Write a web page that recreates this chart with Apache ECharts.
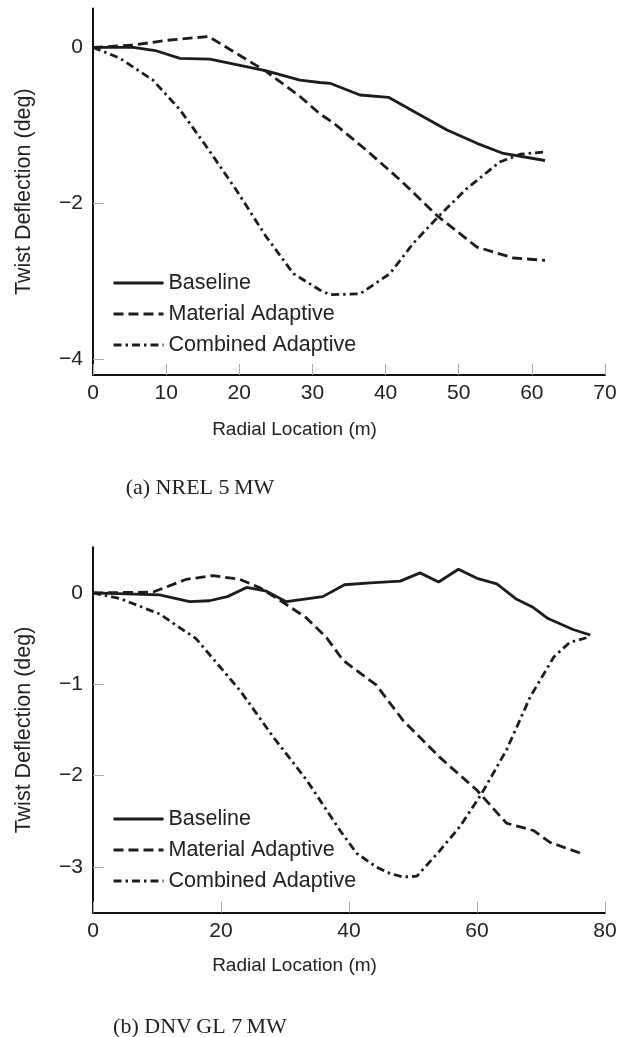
<!DOCTYPE html>
<html>
<head>
<meta charset="utf-8">
<script src="https://cdn.jsdelivr.net/npm/echarts@6/dist/echarts.min.js"></script>
<style>
  html, body { margin: 0; padding: 0; background: #fff; }
  #chart { width: 619px; height: 1037px; }
</style>
</head>
<body>
<div id="chart"></div>
<script>
// ---------- Data ----------
const seriesNames = ['Baseline', 'Material Adaptive', 'Combined Adaptive'];

// (a) NREL 5 MW
const nrelBaseX = [0, 5.5, 8.5, 11.9, 16, 20.1, 23.7, 28.3, 31, 32.4, 36.5, 40.4, 44.3, 48.4, 52.5, 56.1, 61.8];
const nrelBaseY = [0, 0, -0.04, -0.14, -0.15, -0.23, -0.3, -0.42, -0.45, -0.46, -0.61, -0.64, -0.845, -1.06, -1.23, -1.36, -1.45];
const nrelMatX = [0, 5.5, 10, 15.8, 23.7, 28.3, 31, 32.9, 37.4, 42, 47.2, 52.5, 57.5, 61.8];
const nrelMatY = [0, 0.03, 0.09, 0.14, -0.31, -0.63, -0.85, -0.97, -1.32, -1.70, -2.17, -2.56, -2.70, -2.73];
const nrelCombX = [0, 3.7, 8.2, 11.9, 15.5, 19.6, 23.7, 27.4, 31, 32.4, 36.5, 40.6, 43.8, 47.2, 51.1, 55.6, 58.4, 61.8];
const nrelCombY = [0, -0.14, -0.42, -0.80, -1.27, -1.83, -2.43, -2.90, -3.11, -3.17, -3.16, -2.90, -2.51, -2.17, -1.81, -1.47, -1.37, -1.34];

// (b) DNV GL 7 MW
const dnvBaseX = [0, 10.4, 15.1, 18.2, 21, 24, 27.1, 30.2, 35.9, 39.3, 43.3, 48, 51.1, 54, 57.1, 60, 63.1, 66.2, 68.8, 71.1, 75, 77.7];
const dnvBaseY = [0, -0.02, -0.095, -0.085, -0.04, 0.06, 0.02, -0.095, -0.04, 0.09, 0.11, 0.13, 0.22, 0.12, 0.26, 0.16, 0.10, -0.07, -0.16, -0.28, -0.40, -0.46];
const dnvMatX = [0, 9.4, 14.6, 18.75, 22.9, 26, 29.2, 33.3, 36.5, 39.1, 44.3, 48.5, 54.2, 60, 64.6, 68.8, 71.4, 76.6];
const dnvMatY = [0, 0.01, 0.15, 0.19, 0.15, 0.06, -0.08, -0.27, -0.49, -0.74, -1.01, -1.40, -1.80, -2.16, -2.52, -2.60, -2.73, -2.86];
const dnvCombX = [0, 4.2, 10.4, 16.1, 23, 28.2, 33.4, 38.6, 41.2, 44.3, 46.4, 48.5, 50.6, 54.2, 57.3, 60.7, 64.6, 68.3, 72, 74.5, 77.1];
const dnvCombY = [0, -0.06, -0.23, -0.50, -1.07, -1.58, -2.05, -2.60, -2.85, -3.0, -3.07, -3.11, -3.10, -2.82, -2.56, -2.20, -1.72, -1.14, -0.70, -0.54, -0.49];

// Tick labels
const nrelXTicks = [0, 10, 20, 30, 40, 50, 60, 70];
const nrelYTicks = [-4, -2, 0];
const dnvXTicks = [0, 20, 40, 60, 80];
const dnvYTicks = [-3, -2, -1, 0];

const xAxisName = 'Radial Location (m)';
const yAxisName = 'Twist Deflection (deg)';
const captionA = '(a) NREL 5\u2009MW';
const captionB = '(b) DNV\u2009GL 7\u2009MW';

// ---------- Helpers ----------
const zip = (xs, ys) => xs.map((x, i) => [x, ys[i]]);
const SANS = '"Liberation Sans", Arial, Helvetica, sans-serif';
const SERIF = '"Liberation Serif", "Times New Roman", serif';
const TXT = '#222';
const LINE = '#1c1c1c';
const minusFmt = v => String(v).replace('-', '\u2212');
const dashTypes = ['solid', [10, 5], [8, 4, 2.5, 4]];

function xAxisCfg(gridIndex, min, max, ticks, gap) {
  return {
    type: 'value', gridIndex, min, max,
    name: xAxisName, nameLocation: 'middle', nameGap: gap,
    nameTextStyle: { fontFamily: SANS, fontSize: 19, color: TXT, padding: [0, 109, 0, 0] },
    axisLine: { show: true, onZero: false, lineStyle: { color: '#111', width: 2 } },
    axisTick: { show: true, inside: true, length: 11, customValues: ticks, lineStyle: { color: '#aaa', width: 1 } },
    axisLabel: { customValues: ticks, fontFamily: SANS, fontSize: 21, color: TXT, margin: 8, formatter: minusFmt },
    splitLine: { show: false }
  };
}
function yAxisCfg(gridIndex, min, max, ticks) {
  return {
    type: 'value', gridIndex, min, max,
    name: yAxisName, nameLocation: 'middle', nameGap: 58, nameRotate: 90,
    nameTextStyle: { fontFamily: SANS, fontSize: 21.5, color: TXT },
    axisLine: { show: true, onZero: false, lineStyle: { color: '#111', width: 2 } },
    axisTick: { show: true, inside: true, length: 11, customValues: ticks, lineStyle: { color: '#aaa', width: 1 } },
    axisLabel: { customValues: ticks, fontFamily: SANS, fontSize: 21, color: TXT, margin: 10, formatter: minusFmt },
    splitLine: { show: false }
  };
}
function lineSeries(name, idx, data, typeIdx) {
  return {
    name, type: 'line', xAxisIndex: idx, yAxisIndex: idx, data,
    symbol: 'none', showSymbol: false, smooth: false, animation: false,
    lineStyle: { color: LINE, width: 2.8, type: dashTypes[typeIdx] },
    itemStyle: { color: LINE }
  };
}
function legendCfg(top) {
  return {
    data: seriesNames, orient: 'vertical', left: 107, top,
    itemWidth: 50, itemHeight: 14, itemGap: 7,
    itemStyle: { opacity: 0 },
    lineStyle: { width: 3 },
    textStyle: { fontFamily: SANS, fontSize: 21.5, lineHeight: 24, color: TXT },
    selectedMode: false
  };
}

const chart = echarts.init(document.getElementById('chart'), null, { renderer: 'canvas' });
chart.setOption({
  backgroundColor: '#fff',
  animation: false,
  grid: [
    { left: 93, top: 8.4, width: 512, height: 366.6, containLabel: false, outerBoundsMode: 'none' },
    { left: 93, top: 547.3, width: 512, height: 365.4, containLabel: false, outerBoundsMode: 'none' }
  ],
  xAxis: [
    xAxisCfg(0, 0, 70, nrelXTicks, 45),
    xAxisCfg(1, 0, 80, dnvXTicks, 44)
  ],
  yAxis: [
    yAxisCfg(0, -4.2, 0.5, nrelYTicks),
    yAxisCfg(1, -3.5, 0.5, dnvYTicks)
  ],
  legend: [legendCfg(266), legendCfg(802)],
  series: [
    lineSeries(seriesNames[0], 0, zip(nrelBaseX, nrelBaseY), 0),
    lineSeries(seriesNames[1], 0, zip(nrelMatX, nrelMatY), 1),
    lineSeries(seriesNames[2], 0, zip(nrelCombX, nrelCombY), 2),
    lineSeries(seriesNames[0], 1, zip(dnvBaseX, dnvBaseY), 0),
    lineSeries(seriesNames[1], 1, zip(dnvMatX, dnvMatY), 1),
    lineSeries(seriesNames[2], 1, zip(dnvCombX, dnvCombY), 2)
  ],
  graphic: [
    { type: 'text', style: { x: 200, y: 488, text: captionA, fontFamily: SERIF, fontSize: 22, fill: TXT, align: 'center', verticalAlign: 'middle', textAlign: 'center', textVerticalAlign: 'middle' } },
    { type: 'text', style: { x: 200, y: 1027, text: captionB, fontFamily: SERIF, fontSize: 22, fill: TXT, align: 'center', verticalAlign: 'middle', textAlign: 'center', textVerticalAlign: 'middle' } }
  ]
});
</script>
</body>
</html>
